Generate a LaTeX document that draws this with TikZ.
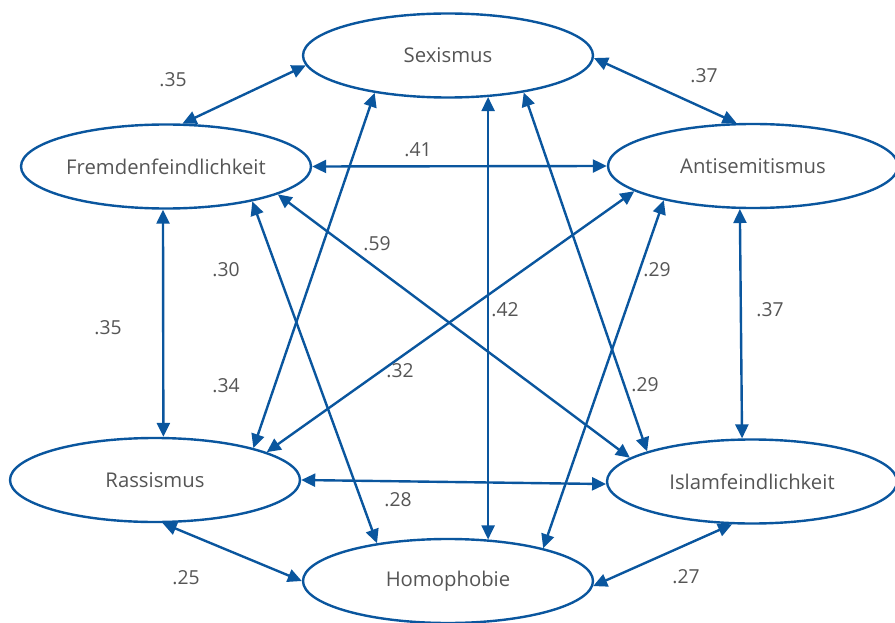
\documentclass[tikz,border=0pt]{standalone}
\usepackage{fontspec}
\setmainfont{Open Sans}
\usetikzlibrary{arrows.meta,shapes.geometric}
\definecolor{linkblue}{RGB}{10,86,158}
\definecolor{labelgray}{RGB}{85,85,85}
\begin{document}
\begin{tikzpicture}[x=1pt,y=-1pt,
  factor/.style={ellipse, draw=linkblue, line width=2.4pt, minimum width=290pt,
    minimum height=84pt, inner sep=0pt, text=labelgray,
    font=\fontsize{20.3}{22}\selectfont},
  coef/.style={text=labelgray, inner sep=0pt, font=\fontsize{19.3}{21}\selectfont},
  link/.style={draw=linkblue, line width=2.4pt,
    {Triangle[length=14pt,width=13pt]}-{Triangle[length=14pt,width=13pt]}}
]
\useasboundingbox (0,0) rectangle (895,623);
\clip (0,0) rectangle (895,623);

% the six attitude factors
\node[factor] (sex)   at (448,55.5)  {Sexismus};
\node[factor] (fremd) at (166,166.5) {Fremdenfeindlichkeit};
\node[factor] (anti)  at (753,166)   {Antisemitismus};
\node[factor] (rass)  at (155,480)   {Rassismus};
\node[factor] (islam) at (752,481.5) {Islamfeindlichkeit};
\node[factor] (homo)  at (448,581)   {Homophobie};

% correlations between the factors
\draw[link] (fremd.69)  -- (sex.184);
\draw[link] (sex.-1)    -- (anti.111);
\draw[link] (fremd.0)   -- (anti.180);
\draw[link] (fremd.266) -- (rass.79);
\draw[link] (anti.253)  -- (islam.103);
\draw[link] (rass.0)    -- (islam.181);
\draw[link] (rass.280)  -- (homo.180);
\draw[link] (islam.245) -- (homo.-2);
\draw[link] (sex.314)   -- (homo.46);
\draw[link] (fremd.338) -- (homo.152);
\draw[link] (sex.207)   -- (rass.18);
\draw[link] (fremd.346) -- (islam.169);
\draw[link] (anti.192)  -- (rass.14.5);
\draw[link] (sex.334.5) -- (islam.164);
\draw[link] (anti.201)  -- (homo.19.3);

% coefficients
\node[coef] (c1)  at (173,80)  {.35};
\node[coef] (c2)  at (704,76)  {.37};
\node[coef] (c3)  at (418,150) {.41};
\node[coef] (c4)  at (108,328) {.35};
\node[coef] (c5)  at (226,270) {.30};
\node[coef] (c6)  at (226,386) {.34};
\node[coef] (c7)  at (377,244) {.59};
\node[coef] (c8)  at (400,371) {.32};
\node[coef] (c9)  at (505,310) {.42};
\node[coef] (c10) at (657,270) {.29};
\node[coef] (c11) at (645,385) {.29};
\node[coef] (c12) at (770,310) {.37};
\node[coef] (c13) at (398,500) {.28};
\node[coef] (c14) at (186,578) {.25};
\node[coef] (c15) at (686,577) {.27};
\end{tikzpicture}
\end{document}
